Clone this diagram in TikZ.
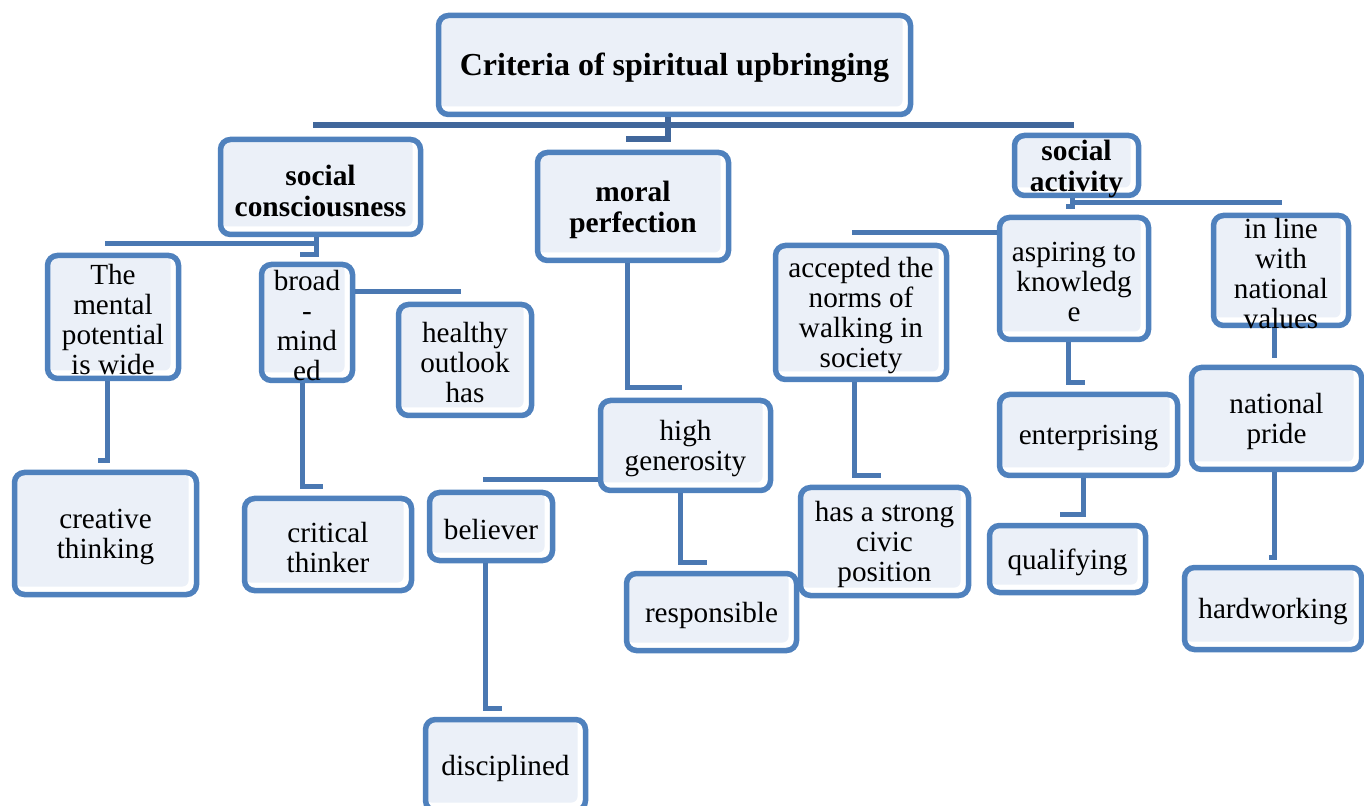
\documentclass[tikz,border=0pt]{standalone}
\usepackage{fontspec}
\setmainfont{Liberation Serif}
\definecolor{boxblue}{HTML}{4F81BD}
\definecolor{boxfill}{HTML}{EBF0F8}
\definecolor{connblue}{HTML}{4A78B2}
\definecolor{conndark}{HTML}{41679B}
\tikzset{
  box/.style={draw=boxblue, line width=2.75pt, rounded corners=5pt, fill=white, inner sep=0pt,
    path picture={\fill[boxfill, rounded corners=3pt] (path picture bounding box.north west) rectangle ([shift={(-4pt,4pt)}]path picture bounding box.south east);}},
  txt/.style={align=center, inner sep=0pt, yshift=-1.5pt, font=\fontsize{14.6}{15}\selectfont},
  btxt/.style={align=center, inner sep=0pt, yshift=-1.75pt, font=\fontsize{14.7}{15.5}\selectfont\bfseries},
  conn/.style={draw=connblue, line width=2.5pt},
  connD/.style={draw=conndark, line width=2.75pt}
}
\begin{document}
\begin{tikzpicture}[x=0.5pt, y=-0.5pt]
\useasboundingbox (0,0) rectangle (1364,806);
% boxes
\node[box, minimum width=236pt, minimum height=49.5pt, label={[align=center, inner sep=0pt, yshift=-1.5pt, font=\fontsize{16}{17}\selectfont\bfseries]center:Criteria of spiritual upbringing}] (title) at (674.5,65) {};
\node[box, minimum width=100pt, minimum height=47.5pt, label={[btxt]center:social\\consciousness}] (sc) at (320.5,187) {};
\node[box, minimum width=95.5pt, minimum height=54pt, label={[btxt]center:moral\\perfection}] (moral) at (633,206.5) {};
\node[box, minimum width=62pt, minimum height=30pt, label={[btxt]center:social\\activity}] (sact) at (1076.5,165.5) {};
\node[box, minimum width=65.5pt, minimum height=61.5pt, label={[txt]center:The\\mental\\potential\\is wide}] (mental) at (113,317) {};
\node[box, minimum width=45.5pt, minimum height=58pt, label={[txt]center:broad\\-\\mind\\ed}] (broad) at (307,322.5) {};
\node[box, minimum width=66.5pt, minimum height=55.5pt, label={[txt]center:healthy\\outlook\\has}] (healthy) at (465,360) {};
\node[box, minimum width=91pt, minimum height=61pt, label={[txt]center:creative\\thinking}] (creative) at (105.5,533.5) {};
\node[box, minimum width=83.5pt, minimum height=46pt, label={[txt]center:critical\\thinker}] (critical) at (328,544.5) {};
\node[box, minimum width=85pt, minimum height=45pt, label={[txt]center:high\\generosity}] (highgen) at (685.5,445.5) {};
\node[box, minimum width=61.5pt, minimum height=34pt, label={[txt]center:believer}] (believer) at (491,526.5) {};
\node[box, minimum width=85pt, minimum height=38.5pt, label={[txt]center:responsible}] (responsible) at (711.5,612) {};
\node[box, minimum width=80pt, minimum height=45.5pt, label={[txt]center:disciplined}] (disciplined) at (505.5,765) {};
\node[box, minimum width=85.5pt, minimum height=67pt, label={[txt]center:accepted the\\norms of\\walking in\\society}] (accepted) at (861,312.5) {};
\node[box, minimum width=74.5pt, minimum height=61pt, label={[txt]center:aspiring to\\knowledg\\e}] (aspiring) at (1074,278.5) {};
\node[box, minimum width=67.5pt, minimum height=55pt, label={[txt]center:in line\\with\\national\\values}] (inline) at (1281,270.5) {};
\node[box, minimum width=85pt, minimum height=51pt, label={[txt]center:national\\pride}] (natpride) at (1276.5,418.5) {};
\node[box, minimum width=89pt, minimum height=40.5pt, label={[txt]center:enterprising}] (enterprising) at (1088.5,435) {};
\node[box, minimum width=84pt, minimum height=54pt, label={[txt]center:has a strong\\civic\\position}] (civic) at (884.5,541.5) {};
\node[box, minimum width=78pt, minimum height=33.5pt, label={[txt]center:qualifying}] (qualifying) at (1067.5,559) {};
\node[box, minimum width=88.5pt, minimum height=41pt, label={[txt]center:hardworking}] (hardworking) at (1273,608.5) {};
% free ends of connectors
\coordinate (tl) at (313,125);
\coordinate (tr) at (1074,125);
\coordinate (tm) at (626,139);
\coordinate (cment) at (105,244);
\coordinate (cbroad) at (300,255);
\coordinate (cheal) at (461,292);
\coordinate (ccre) at (98,461);
\coordinate (ccri) at (323,487);
\coordinate (chg) at (682,388);
\coordinate (cbel) at (483,480);
\coordinate (cres) at (707,562);
\coordinate (cdis) at (502,708);
\coordinate (cinl) at (1282,203);
\coordinate (casp) at (1066,207);
\coordinate (cacc) at (852,233);
\coordinate (cciv) at (881,476);
\coordinate (cent) at (1085,383);
\coordinate (cqua) at (1060,514);
\coordinate (cnp) at (1274,358);
\coordinate (chw) at (1269,557);
% connectors
\draw[connD] ([xshift=-3.25pt]title.south) |- (tl);
\draw[connD] ([xshift=-3.25pt]title.south) |- (tr);
\draw[connD] ([xshift=-3.25pt]title.south) |- (tm);
\draw[conn] ([xshift=-2.25pt]sc.south) |- (cment);
\draw[conn] ([xshift=-2.25pt]sc.south) |- (cbroad);
\draw[conn] (broad.east |- cheal) -- (cheal);
\draw[conn] ([xshift=-3pt]mental.south) |- (ccre);
\draw[conn] ([xshift=-2.5pt]broad.south) |- (ccri);
\draw[conn] ([xshift=-3pt]moral.south) |- (chg);
\draw[conn] (highgen.west |- cbel) -- (cbel);
\draw[conn] ([xshift=-2.75pt]highgen.south) |- (cres);
\draw[conn] ([xshift=-3pt]believer.south) |- (cdis);
\draw[conn] ([xshift=-2.25pt]sact.south) |- (cinl);
\draw[conn] ([xshift=-2.25pt]sact.south) |- (casp);
\draw[conn] (aspiring.west |- cacc) -- (cacc);
\draw[conn] ([xshift=-3.5pt]accepted.south) |- (cciv);
\draw[conn] ([xshift=-3pt]aspiring.south) |- (cent);
\draw[conn] ([xshift=-2.75pt]enterprising.south) |- (cqua);
\draw[conn] ([xshift=-3.5pt]inline.south) -- (cnp);
\draw[conn] ([xshift=-1.25pt]natpride.south) |- (chw);
\end{tikzpicture}
\end{document}
